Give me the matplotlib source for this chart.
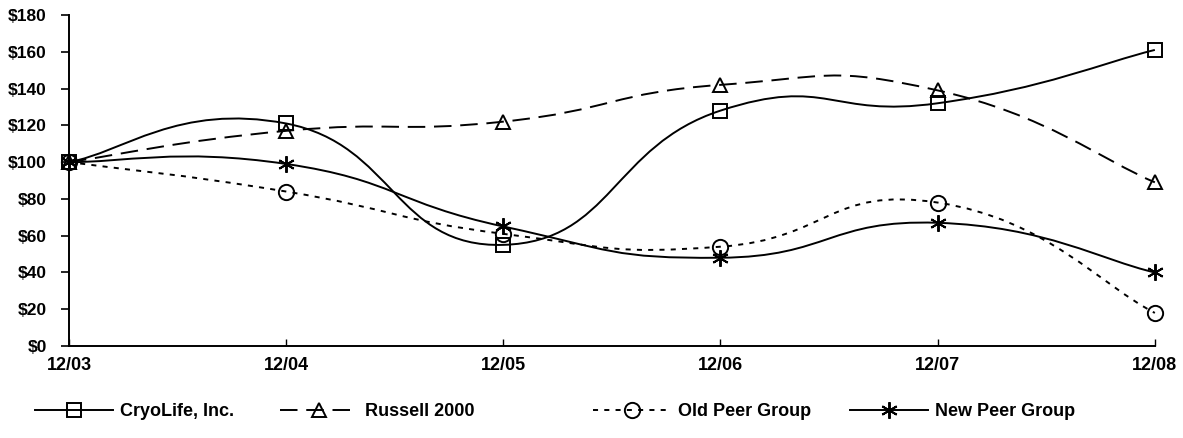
import matplotlib
matplotlib.use("Agg")
import matplotlib.pyplot as plt
import numpy as np
from matplotlib.path import Path
from matplotlib.patches import PathPatch
from matplotlib.lines import Line2D

plt.rcParams["font.family"] = ["Liberation Sans", "DejaVu Sans"]
plt.rcParams["font.weight"] = "bold"

periods = ["12/03", "12/04", "12/05", "12/06", "12/07", "12/08"]
cryolife = [100, 121, 55, 128, 132, 161]
russell = [100, 117, 122, 142, 139, 89]
old_peer = [100, 84, 61, 54, 78, 18]
new_peer = [100, 99, 65, 48, 67, 40]
names = ["CryoLife, Inc.", "Russell 2000", "Old Peer Group", "New Peer Group"]
yticks = list(range(0, 181, 20))


def smooth_path(xs, ys, k=0.25):
    # smoothed line as cubic bezier segments through the data points
    pts = np.column_stack([xs, ys]).astype(float)
    n = len(pts)
    verts = [pts[0]]
    codes = [Path.MOVETO]
    for i in range(n - 1):
        p0 = pts[i - 1] if i > 0 else pts[i]
        p1, p2 = pts[i], pts[i + 1]
        p3 = pts[i + 2] if i + 2 < n else pts[i + 1]
        verts += [p1 + k * (p2 - p0), p2 - k * (p3 - p1), p2]
        codes += [Path.CURVE4] * 3
    return Path(verts, codes)


fig = plt.figure(figsize=(11.83, 4.38), dpi=100)
ax = fig.add_axes([0.0583, 0.21, 0.9179, 0.7558])

x = np.arange(len(periods))
series = [
    (cryolife, "-", "s", 9.5),
    (russell, (0, (9, 4.5)), "^", 10.5),
    (old_peer, (0, (2.6, 3.2)), "o", 11),
    (new_peer, "-", (6, 2, 0), 12),
]

handles = []
for (vals, ls, mk, ms), name in zip(series, names):
    patch = PathPatch(smooth_path(x, vals), fill=False, edgecolor="black",
                      linewidth=1.4, linestyle=ls, clip_on=False)
    ax.add_patch(patch)
    ax.plot(x, vals, linestyle="none", marker=mk, markersize=ms,
            markerfacecolor="none", markeredgecolor="black",
            markeredgewidth=1.4, clip_on=False)
    handles.append(Line2D([], [], color="black", linewidth=1.4, linestyle=ls,
                          marker=mk, markersize=ms, markerfacecolor="none",
                          markeredgewidth=1.4, label=name))

ax.set_xlim(0, 5)
ax.set_ylim(0, 180)
ax.set_xticks(x)
ax.set_xticklabels(periods, fontsize=13, fontweight="bold")
ax.set_yticks(yticks)
ax.set_yticklabels([f"${v}" for v in yticks], fontsize=12.5, fontweight="bold")
ax.tick_params(axis="y", direction="out", length=6, width=1.2, pad=10)
ax.tick_params(axis="x", direction="in", length=5, width=1.0, pad=8)
for side in ["top", "right"]:
    ax.spines[side].set_visible(False)
ax.spines["left"].set_linewidth(1.4)
ax.spines["bottom"].set_linewidth(1.4)

# legend entries sit at uneven spots along the bottom
starts = [35, 280, 593, 850]
for h, xs in zip(handles, starts):
    fig.legend(handles=[h], loc="center left",
               bbox_to_anchor=(xs / 1183, 1 - 412 / 438),
               frameon=False, handlelength=4.3,
               handletextpad=0.4, borderpad=0, borderaxespad=0, numpoints=1,
               prop={"weight": "bold", "size": 13})

fig.savefig("out.png", dpi=100)
